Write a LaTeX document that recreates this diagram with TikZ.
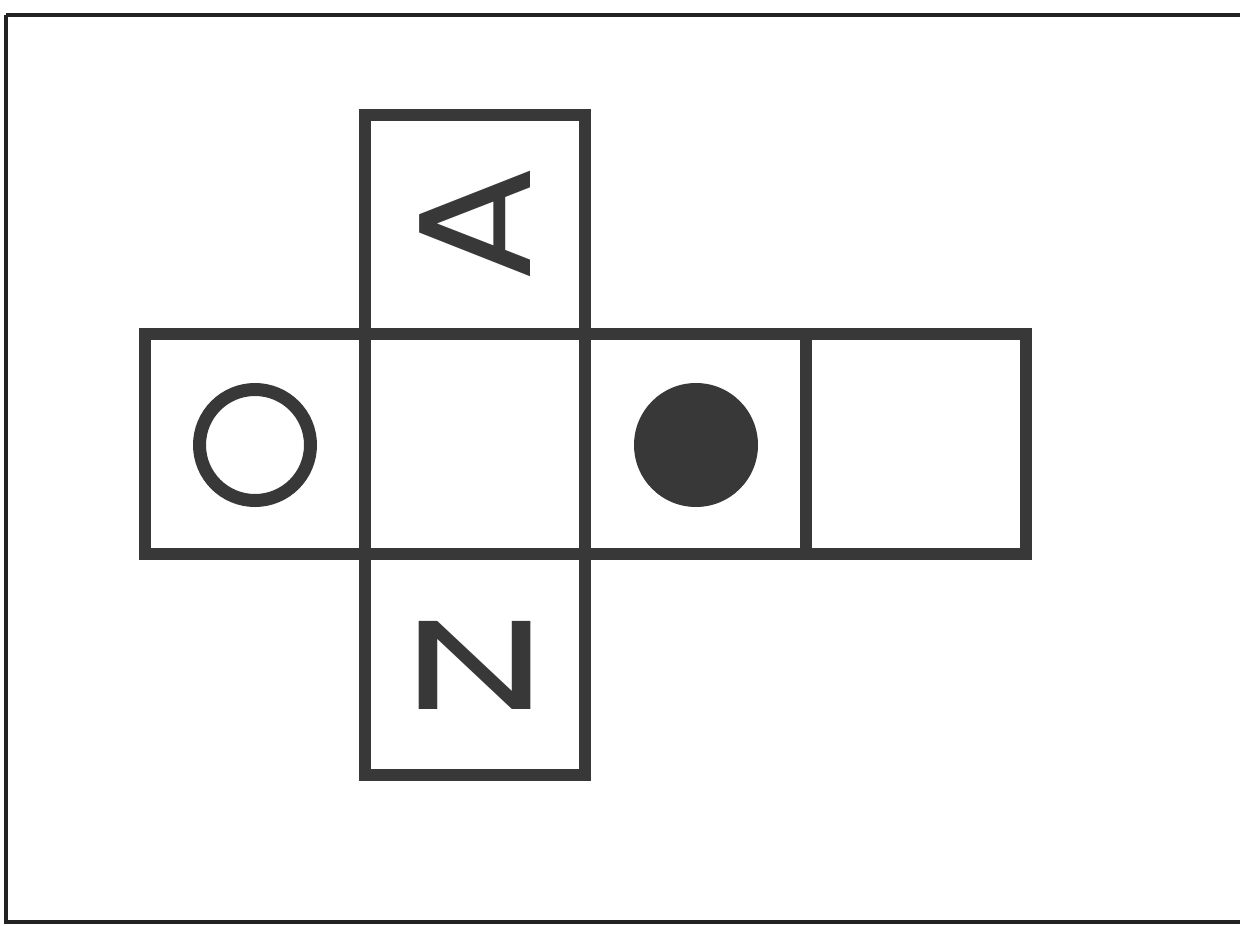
\documentclass[tikz,border=0pt]{standalone}
\usepackage{fontspec}
\setmainfont{Poppins}
\definecolor{ink}{HTML}{383838}
\definecolor{frame}{HTML}{222222}
\begin{document}
\begin{tikzpicture}[x=1pt,y=-1pt,
  cell/.style={draw=ink,line width=12pt},
  letter/.style={text=ink,inner sep=0pt,font=\fontsize{125}{125}\selectfont}]
\useasboundingbox (0,0) rectangle (1240,926);
\draw[frame,line width=3.2pt] (6,15) -- (1250,15);
\draw[frame,line width=3.2pt] (6,15) -- (6,922) -- (1250,922);
% cube net
\draw[cell] (365,115) rectangle (585,334);
\draw[cell] (145,334) rectangle (365,554);
\draw[cell] (365,334) rectangle (585,554);
\draw[cell] (585,334) rectangle (806,554);
\draw[cell] (806,334) rectangle (1026,554);
\draw[cell] (365,554) rectangle (585,775);
% symbols
\node[draw=ink,line width=13pt,circle,minimum size=111pt,inner sep=0pt] (o) at (255,445) {};
\node[fill=ink,circle,minimum size=124pt,inner sep=0pt] (f) at (696,445) {};
\node[letter,rotate=90] (a) at (475.5,224) {\scalebox{1.39}[1.28]{A}};
\node[letter] (n) at (475.5,665) {\scalebox{1.63}[1.01]{N}};
\end{tikzpicture}
\end{document}
